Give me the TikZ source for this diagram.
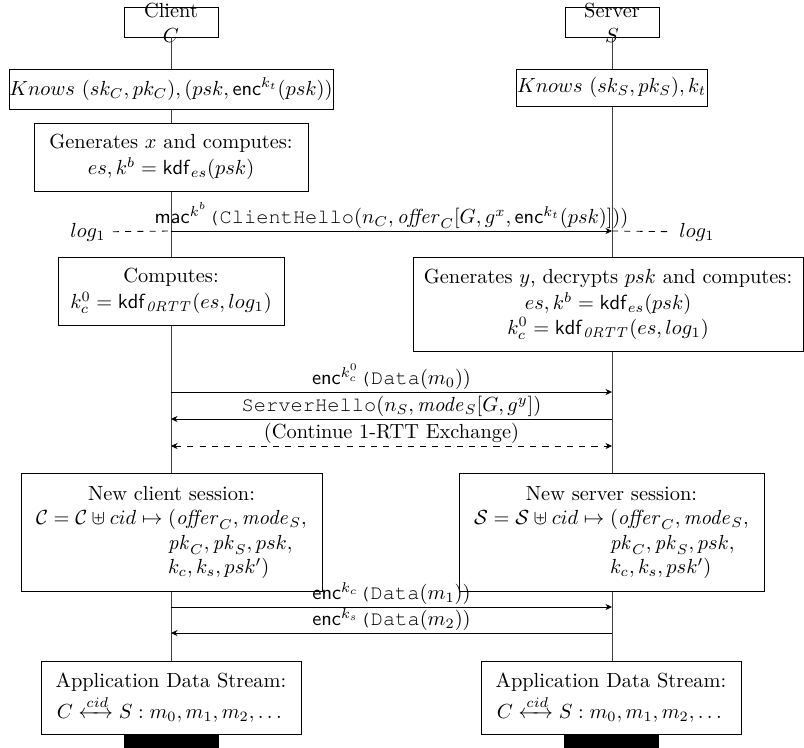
\documentclass[tikz,border=0pt]{standalone}
\usepackage{amsmath,amssymb,mathtools}
\usetikzlibrary{arrows.meta}
\newcommand\cour[1]{{\fontencoding{T1}\fontfamily{pcr}\selectfont #1}}
\begin{document}
\begin{tikzpicture}[x=0.49pt,y=-0.49pt,
  box/.style={draw, fill=white, inner sep=0pt, align=center},
  headbox/.style={draw, inner sep=0pt, minimum width=46.1pt, minimum height=14.7pt},
  msg/.style={-{Stealth[length=3.2pt,width=3pt]}},
  dmsg/.style={dashed, {Stealth[length=3.2pt,width=3pt]}-{Stealth[length=3.2pt,width=3pt]}},
  lbl/.style={inner sep=1pt, anchor=south},
  life/.style={draw=black!75},
  bar/.style={fill=black, draw=none, inner sep=0pt, minimum width=46.5pt, minimum height=8pt, anchor=north}]
\useasboundingbox (0,0) rectangle (804,747);

% headers and lifelines
\node[headbox] (cbox) at (171,22) {};
\node[headbox] (sbox) at (612,22) {};
\coordinate (cend) at (171,760);
\coordinate (send) at (612,760);
\draw[life] (cbox.south) -- (cend);
\draw[life] (sbox.south) -- (send);
\node[align=center, inner sep=0pt] (clab) at (171,23) {Client\\$C$};
\node[align=center, inner sep=0pt] (slab) at (612,23) {Server\\$S$};

% knowledge
\node[box, minimum width=158.8pt, minimum height=19.6pt] (cknows) at (171,89)
  {$Knows\ (sk_C, pk_C), (psk, \mathsf{enc}^{k_t}(psk))$};
\node[box, minimum width=93.6pt, minimum height=18.1pt] (sknows) at (611.5,87.5)
  {$Knows\ (sk_S, pk_S), k_t$};
\node[box, minimum width=134.3pt, minimum height=33.3pt] (cgen) at (171,157)
  {Generates $x$ and computes:\\[1pt] $es, k^b = \mathsf{kdf}_{es}(psk)$};

% ClientHello
\coordinate (m1c) at (171,231);
\coordinate (m1s) at (612,231);
\draw[msg] (m1c) -- node[lbl] {$\mathsf{mac}^{k^b}\text{\cour{(ClientHello}}(n_C, \mathit{offer}_C[G, g^x, \mathsf{enc}^{k_t}(psk)]))$} (m1s);
\node (logc) at (88,232) {$log_1$};
\node (logs) at (697,232) {$log_1$};
\draw[dashed] (logc) -- (m1c);
\draw[dashed] (m1s) -- (logs);

% computations
\node[box, minimum width=110.7pt, minimum height=33.3pt] (ccomp) at (171,291)
  {Computes:\\[1pt] $k_c^0 = \mathsf{kdf}_{\mathit{0RTT}}(es, log_1)$};
\node[box, minimum width=191.1pt, minimum height=46.1pt] (sgen) at (608,304)
  {Generates $y$, decrypts $psk$ and computes:\\[1pt] $es, k^b = \mathsf{kdf}_{es}(psk)$\\ $k_c^0 = \mathsf{kdf}_{\mathit{0RTT}}(es, log_1)$};

% 0-RTT data, ServerHello, continue
\coordinate (m2c) at (171,392);
\coordinate (m2s) at (612,392);
\draw[msg] (m2c) -- node[lbl] {$\mathsf{enc}^{k_c^0}\text{\cour{(Data}}(m_0))$} (m2s);
\coordinate (m3c) at (171,419);
\coordinate (m3s) at (612,419);
\draw[msg] (m3s) -- node[lbl] {$\text{\cour{ServerHello}}(n_S, \mathit{mode}_S[G, g^y])$} (m3c);
\coordinate (m4c) at (171,446);
\coordinate (m4s) at (612,446);
\draw[dmsg] (m4c) -- node[lbl] {(Continue 1-RTT Exchange)} (m4s);

% sessions
\node[box, minimum width=147.5pt, minimum height=57.8pt] (csess) at (171.5,532)
  {$\begin{array}{@{}l@{}l@{}}
    \multicolumn{2}{c}{\text{New client session:}}\\
    \mathcal{C} = \mathcal{C} \uplus cid \mapsto{} & (\mathit{offer}_C, \mathit{mode}_S,\\
    & \mathit{pk}_C, \mathit{pk}_S, psk,\\
    & k_c, k_s, psk')
  \end{array}$};
\node[box, minimum width=149.5pt, minimum height=57.8pt] (ssess) at (611.5,532)
  {$\begin{array}{@{}l@{}l@{}}
    \multicolumn{2}{c}{\text{New server session:}}\\
    \mathcal{S} = \mathcal{S} \uplus cid \mapsto{} & (\mathit{offer}_C, \mathit{mode}_S,\\
    & \mathit{pk}_C, \mathit{pk}_S, psk,\\
    & k_c, k_s, psk')
  \end{array}$};

% application data
\coordinate (m5c) at (171,607);
\coordinate (m5s) at (612,607);
\draw[msg] (m5c) -- node[lbl] {$\mathsf{enc}^{k_c}\text{\cour{(Data}}(m_1))$} (m5s);
\coordinate (m6c) at (171,633);
\coordinate (m6s) at (612,633);
\draw[msg] (m6s) -- node[lbl] {$\mathsf{enc}^{k_s}\text{\cour{(Data}}(m_2))$} (m6c);

\node[box, minimum width=127.4pt, minimum height=35.8pt] (capp) at (171,697.5)
  {Application Data Stream:\\[1pt] $C \xleftrightarrow{cid} S : m_0, m_1, m_2, \dots$};
\node[box, minimum width=127.4pt, minimum height=35.8pt] (sapp) at (611,697.5)
  {Application Data Stream:\\[1pt] $C \xleftrightarrow{cid} S : m_0, m_1, m_2, \dots$};

\node[bar] (cbar) at (171.5,735) {};
\node[bar] (sbar) at (611.5,735) {};
\end{tikzpicture}
\end{document}
